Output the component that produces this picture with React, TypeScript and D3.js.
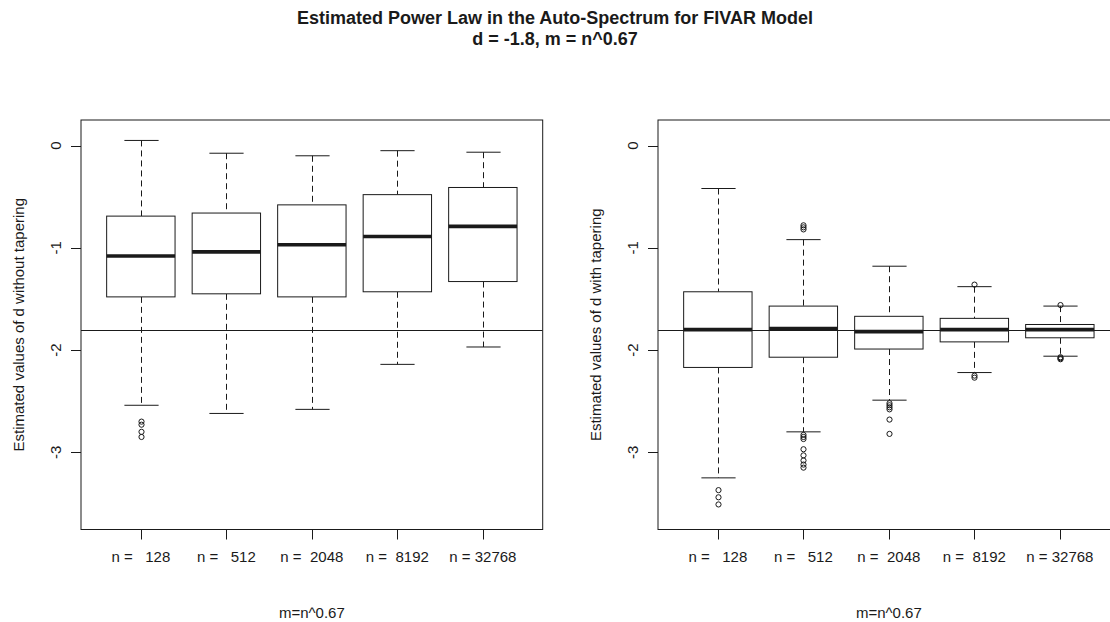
import * as d3 from 'd3'

// sample sizes on the x axis
const CATEGORIES = ['n =   128', 'n =   512', 'n =  2048', 'n =  8192', 'n = 32768']

// left panel: estimates of d without tapering
const RAW_LOWER = [-2.54, -2.62, -2.58, -2.14, -1.97]
const RAW_Q1 = [-1.48, -1.45, -1.48, -1.43, -1.33]
const RAW_MEDIAN = [-1.08, -1.04, -0.97, -0.89, -0.79]
const RAW_Q3 = [-0.69, -0.66, -0.58, -0.48, -0.41]
const RAW_UPPER = [0.05, -0.075, -0.1, -0.05, -0.065]
const RAW_OUTLIERS = [[-2.7, -2.73, -2.8, -2.85], [], [], [], []]

// right panel: estimates of d with tapering
const TAP_LOWER = [-3.25, -2.8, -2.49, -2.22, -2.06]
const TAP_Q1 = [-2.17, -2.07, -1.99, -1.92, -1.88]
const TAP_MEDIAN = [-1.8, -1.79, -1.82, -1.8, -1.8]
const TAP_Q3 = [-1.43, -1.57, -1.67, -1.69, -1.75]
const TAP_UPPER = [-0.42, -0.92, -1.18, -1.38, -1.57]
const TAP_OUTLIERS = [
  [-3.37, -3.44, -3.51],
  [-0.78, -0.8, -0.82, -2.83, -2.85, -2.87, -2.97, -3.03, -3.08, -3.12, -3.15],
  [-2.52, -2.54, -2.56, -2.58, -2.68, -2.82],
  [-1.36, -2.25, -2.27],
  [-1.56, -2.07, -2.08, -2.09],
]

const Y_TICKS = [0, -1, -2, -3]
const TRUE_D = -1.8

const TITLE = 'Estimated Power Law in the Auto-Spectrum for FIVAR Model'
const SUBTITLE = 'd = -1.8, m = n^0.67'
const X_TITLE = 'm=n^0.67'

const WIDTH = 1110
const HEIGHT = 622
const TOP = 120
const BOTTOM = 529.5
const PANEL_W = 461.7
const FONT = '"Liberation Sans", Arial, sans-serif'
const INK = '#1a1a1a'

interface PanelProps {
  left: number
  yTitle: string
  lower: number[]
  q1: number[]
  median: number[]
  q3: number[]
  upper: number[]
  outliers: number[][]
}

const y = d3.scaleLinear().domain([-3.755, 0.25]).range([BOTTOM, TOP])

function Panel({ left, yTitle, lower, q1, median, q3, upper, outliers }: PanelProps) {
  const x = d3.scaleLinear().domain([0.3, 5.7]).range([left, left + PANEL_W])
  const unit = x(1) - x(0)
  const boxHalf = unit * 0.4
  const capHalf = unit * 0.2
  const midY = (TOP + BOTTOM) / 2

  return (
    <g>
      <defs>
        <clipPath id={`clip-${left}`}>
          <rect x={x(0.3)} y={TOP} width={PANEL_W} height={BOTTOM - TOP} />
        </clipPath>
      </defs>

      {CATEGORIES.map((_, i) => {
        const cx = Math.round(x(i + 1)) + 0.5
        const bx = x(i + 1) - boxHalf
        return (
          <g key={i} stroke={INK} fill="none">
            {/* whiskers */}
            <line x1={cx} x2={cx} y1={y(upper[i])} y2={y(q3[i])} strokeDasharray="6,4" />
            <line x1={cx} x2={cx} y1={y(q1[i])} y2={y(lower[i])} strokeDasharray="6,4" />
            <line x1={cx - capHalf} x2={cx + capHalf} y1={y(upper[i])} y2={y(upper[i])} />
            <line x1={cx - capHalf} x2={cx + capHalf} y1={y(lower[i])} y2={y(lower[i])} />
            <rect x={bx} y={y(q3[i])} width={boxHalf * 2} height={y(q1[i]) - y(q3[i])} fill="#fff" />
            <line x1={bx} x2={bx + boxHalf * 2} y1={y(median[i])} y2={y(median[i])} strokeWidth={3.6} />
            {outliers[i].map((v, j) => (
              <circle key={j} cx={cx} cy={y(v)} r={2.6} />
            ))}
          </g>
        )
      })}

      {/* reference line at the true d */}
      <line
        x1={x(0.3)}
        x2={x(5.7)}
        y1={Math.round(y(TRUE_D)) + 0.5}
        y2={Math.round(y(TRUE_D)) + 0.5}
        stroke={INK}
        clipPath={`url(#clip-${left})`}
      />

      <rect x={x(0.3)} y={TOP} width={PANEL_W} height={BOTTOM - TOP} fill="none" stroke={INK} />

      {/* y axis */}
      {Y_TICKS.map(t => (
        <g key={t}>
          <line x1={x(0.3) - 10} x2={x(0.3)} y1={Math.round(y(t)) + 0.5} y2={Math.round(y(t)) + 0.5} stroke={INK} />
          <text
            transform={`translate(${x(0.3) - 20},${y(t)}) rotate(-90)`}
            textAnchor="middle"
            fontSize={15}
            fill={INK}
          >
            {t}
          </text>
        </g>
      ))}
      <text
        transform={`translate(${x(0.3) - 57},${midY}) rotate(-90)`}
        textAnchor="middle"
        fontSize={15}
        fill={INK}
      >
        {yTitle}
      </text>

      {/* x axis */}
      {CATEGORIES.map((c, i) => (
        <g key={c}>
          <line x1={Math.round(x(i + 1)) + 0.5} x2={Math.round(x(i + 1)) + 0.5} y1={BOTTOM} y2={BOTTOM + 10} stroke={INK} />
          <text x={x(i + 1)} y={562} textAnchor="middle" fontSize={15} fill={INK} style={{ whiteSpace: 'pre' }}>
            {c}
          </text>
        </g>
      ))}
      <text x={(x(0.3) + x(5.7)) / 2} y={618} textAnchor="middle" fontSize={15} fill={INK}>
        {X_TITLE}
      </text>
    </g>
  )
}

export default function App() {
  return (
    <svg
      width={WIDTH}
      height={HEIGHT}
      style={{ position: 'absolute', left: 0, top: 0, background: '#fff', fontFamily: FONT }}
    >
      <rect width={WIDTH} height={HEIGHT} fill="#fff" />
      <text x={WIDTH / 2} y={24} textAnchor="middle" fontSize={18} fontWeight="bold" fill={INK}>
        {TITLE}
      </text>
      <text x={WIDTH / 2} y={45} textAnchor="middle" fontSize={18} fontWeight="bold" fill={INK} style={{ whiteSpace: 'pre' }}>
        {SUBTITLE}
      </text>
      <Panel
        left={81}
        yTitle="Estimated values of d without tapering"
        lower={RAW_LOWER}
        q1={RAW_Q1}
        median={RAW_MEDIAN}
        q3={RAW_Q3}
        upper={RAW_UPPER}
        outliers={RAW_OUTLIERS}
      />
      <Panel
        left={658}
        yTitle="Estimated values of d with tapering"
        lower={TAP_LOWER}
        q1={TAP_Q1}
        median={TAP_MEDIAN}
        q3={TAP_Q3}
        upper={TAP_UPPER}
        outliers={TAP_OUTLIERS}
      />
    </svg>
  )
}
